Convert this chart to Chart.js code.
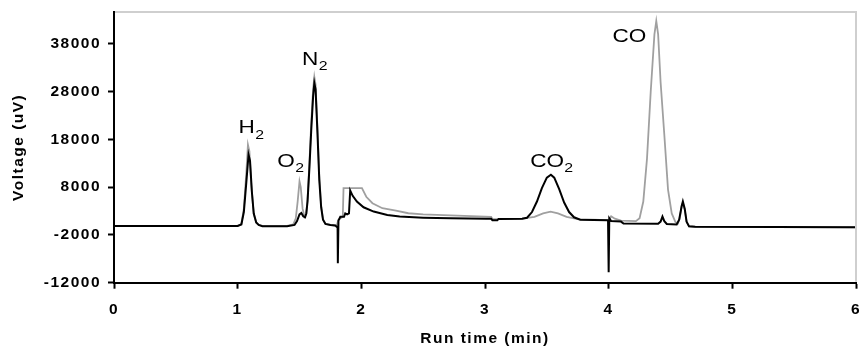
<!DOCTYPE html>
<html><head><meta charset="utf-8">
<script src="https://cdn.jsdelivr.net/npm/chart.js@4.4.0/dist/chart.umd.min.js"></script>
<style>html,body{margin:0;padding:0;background:#fff;overflow:hidden}canvas{display:block}</style>
</head><body>
<canvas id="c" width="862" height="346"></canvas>
<script>
// Black trace (run time in min, voltage in uV)
const timeBlack = [0,1.00,1.03,1.05,1.07,1.088,1.10,1.115,1.13,1.15,1.17,1.20,1.40,1.46,1.48,1.50,1.515,1.53,1.545,1.555,1.565,1.58,1.595,1.61,1.62,1.63,1.645,1.66,1.675,1.69,1.71,1.75,1.79,1.80,1.808,1.81,1.815,1.83,1.86,1.87,1.885,1.90,1.91,1.93,1.964,2.018,2.10,2.21,2.31,2.50,2.72,3.01,3.05,3.06,3.10,3.11,3.30,3.34,3.38,3.42,3.46,3.50,3.533,3.56,3.60,3.64,3.68,3.72,3.77,3.99,3.995,4.00,4.005,4.02,4.10,4.12,4.40,4.42,4.435,4.45,4.47,4.55,4.57,4.59,4.60,4.615,4.63,4.65,4.70,6.00];
const voltBlack = [-100,-100,200,2800,9000,14800,13500,7000,2500,600,100,-150,-150,100,900,2300,2600,1900,1700,2500,5000,12000,20000,27000,29800,28500,19500,9500,3800,1200,300,100,0,-300,-300,-7900,1000,1800,1800,2500,2300,2500,7300,6200,5000,3800,2900,2200,1850,1630,1500,1400,1400,1100,1100,1360,1400,1600,2800,5000,7800,10000,10600,10000,7600,4800,2800,1700,1200,1100,1000,-9800,1500,900,800,400,350,800,1850,900,300,200,1200,4000,5000,3500,800,-200,-300,-400];
// Gray trace
const timeGray = [0,1.00,1.03,1.05,1.07,1.083,1.095,1.11,1.13,1.15,1.17,1.20,1.40,1.45,1.47,1.485,1.50,1.51,1.525,1.54,1.555,1.565,1.58,1.595,1.61,1.62,1.63,1.645,1.66,1.675,1.69,1.71,1.75,1.80,1.815,1.85,1.856,2.005,2.04,2.09,2.17,2.28,2.38,2.50,2.72,3.00,3.05,3.06,3.12,3.30,3.40,3.47,3.53,3.59,3.66,3.75,3.99,4.00,4.02,4.05,4.10,4.22,4.25,4.28,4.31,4.34,4.37,4.385,4.40,4.42,4.45,4.48,4.51,4.54,4.56,4.575,4.59,4.60,4.615,4.63,4.65,4.70,6.00];
const voltGray = [-100,-100,300,3500,11000,16900,15500,8500,2500,600,100,-100,-100,200,1500,5000,9200,8000,3500,1800,2500,5500,13000,21500,28500,31100,29500,20500,10500,4200,1300,300,100,-100,1200,1800,7800,7800,6000,4650,3600,3100,2550,2300,2100,1850,1800,1300,1300,1400,1800,2500,2900,2500,1800,1300,1100,1000,1900,1400,1000,900,1500,5000,14000,28000,40000,42800,40000,30000,19000,7500,2500,700,400,1500,4000,4700,3300,800,-200,-300,-400];

const xTicks = [0,1,2,3,4,5,6];
const yTicks = [-12000,-2000,8000,18000,28000,38000];

// Peak annotations
const peakNames = ['H','O','N','CO','CO'];
const peakSubs  = ['2','2','2','2',''];
const peakLabelT = [1.007,1.320,1.520,3.365,4.031];
const peakLabelV = [19330,12325,33652,12325,38328];

const FAM = "'Liberation Sans', Arial, Helvetica, sans-serif";

const spacing = {
  id:'spacing',
  beforeUpdate(c){ c.ctx.letterSpacing = '1.5px'; },
  beforeDraw(c){ c.ctx.letterSpacing = '1.5px'; }
};
const frame = {
  id:'frame',
  afterDraw(c){
    const {ctx, chartArea:a} = c;
    ctx.save();
    ctx.strokeStyle = '#cfcfcf'; ctx.lineWidth = 2;
    ctx.beginPath();
    ctx.moveTo(a.left+1, a.top); ctx.lineTo(a.right, a.top); ctx.lineTo(a.right, a.bottom-1);
    ctx.stroke();
    ctx.restore();
  }
};
const peaks = {
  id:'peaks',
  afterDatasetsDraw(c){
    const {ctx, scales:{x, y}} = c;
    ctx.save();
    ctx.letterSpacing = '0px';
    ctx.fillStyle = '#000'; ctx.textAlign = 'left'; ctx.textBaseline = 'alphabetic';
    peakNames.forEach((n,i) => {
      const px = x.getPixelForValue(peakLabelT[i]);
      const py = y.getPixelForValue(peakLabelV[i]);
      ctx.save();
      ctx.translate(px, py); ctx.scale(1.22, 1);
      ctx.font = "18.5px " + FAM;
      ctx.fillText(n, 0, 0);
      const w = ctx.measureText(n).width;
      if (peakSubs[i]) { ctx.font = "13px " + FAM; ctx.fillText(peakSubs[i], w + 0.3, 5.5); }
      ctx.restore();
    });
    ctx.restore();
  }
};

new Chart(document.getElementById('c'), {
  type:'line',
  data:{datasets:[
    {label:'black', data: timeBlack.map((t,i)=>({x:t,y:voltBlack[i]})), borderColor:'#000', borderWidth:2, pointRadius:0, tension:0, fill:false, order:0},
    {label:'gray', data: timeGray.map((t,i)=>({x:t,y:voltGray[i]})), borderColor:'#a0a0a0', borderWidth:1.8, pointRadius:0, tension:0, fill:false, order:1}
  ]},
  options:{
    responsive:false, animation:false, devicePixelRatio:1,
    layout:{padding:{top:12,right:6,left:0,bottom:0}},
    plugins:{legend:{display:false}, tooltip:{enabled:false}},
    scales:{
      x:{type:'linear', min:0, max:6,
        afterFit:s=>{s.height=63.3; s.paddingLeft=0; s.paddingRight=0;},
        afterBuildTicks:s=>{s.ticks = xTicks.map(v=>({value:v}));},
        grid:{display:true, drawOnChartArea:false, drawTicks:true, tickLength:6, tickColor:'#000', tickWidth:2},
        border:{display:true, color:'#000', width:2},
        ticks:{color:'#000', font:{family:FAM, size:15.5, weight:'bold'}, padding:12, maxRotation:0, autoSkip:false, callback:v=>String(v)},
        title:{display:true, text:'Run time (min)', color:'#000', font:{family:FAM, size:15.5, weight:'bold', lineHeight:1.0}, padding:{top:0,bottom:0}}
      },
      y:{type:'linear', min:-12000, max:44700,
        afterFit:s=>{s.width=114; s.paddingTop=0; s.paddingBottom=0;},
        afterBuildTicks:s=>{s.ticks = yTicks.map(v=>({value:v}));},
        grid:{display:true, drawOnChartArea:false, drawTicks:true, tickLength:6, tickColor:'#000', tickWidth:2},
        border:{display:true, color:'#000', width:2},
        ticks:{color:'#000', font:{family:FAM, size:15.5, weight:'bold'}, padding:7, autoSkip:false, callback:v=>String(v)},
        title:{display:true, text:'Voltage (uV)', color:'#000', font:{family:FAM, size:15.5, weight:'bold'}, padding:{top:9,bottom:0}}
      }
    }
  },
  plugins:[spacing, frame, peaks]
});
</script>
</body></html>
